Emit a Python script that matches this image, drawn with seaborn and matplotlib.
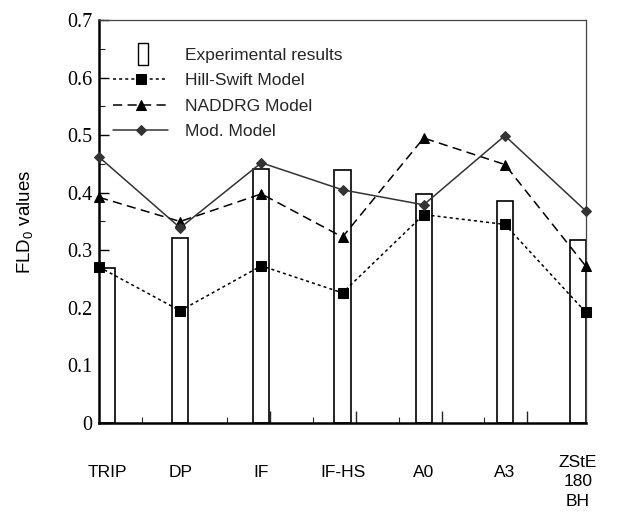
import numpy as np
import pandas as pd
import matplotlib
matplotlib.use("Agg")
import matplotlib.pyplot as plt
import seaborn as sns
from matplotlib.patches import Rectangle
from matplotlib.legend_handler import HandlerPatch
from matplotlib.ticker import MultipleLocator, FixedLocator, FuncFormatter

# Steel grades and FLD0 values
materials = ["TRIP", "DP", "IF", "IF-HS", "A0", "A3", "ZStE\n180\nBH"]
experimental = [0.270, 0.321, 0.441, 0.439, 0.398, 0.386, 0.317]
hill_swift = [0.271, 0.195, 0.273, 0.226, 0.362, 0.345, 0.192]
naddrg = [0.392, 0.350, 0.398, 0.323, 0.495, 0.449, 0.272]
mod_model = [0.462, 0.339, 0.452, 0.405, 0.379, 0.499, 0.368]
model_names = ["Hill-Swift Model", "NADDRG Model", "Mod. Model"]

sns.set_theme(style="white")
plt.rcParams["font.family"] = ["Liberation Sans", "DejaVu Sans"]
plt.rcParams["mathtext.fontset"] = "custom"
plt.rcParams["mathtext.rm"] = "Liberation Sans"

fig = plt.figure(figsize=(6.3, 5.14), dpi=100)
ax = fig.add_axes([99 / 630, 1 - 423 / 514, (586 - 99) / 630, (423 - 20) / 514])

x = np.arange(len(materials))
bar_w = 0.2
# outer bars are kept inside the frame
bar_x = np.clip(x, bar_w / 2, x[-1] - bar_w / 2)
ax.bar(bar_x, experimental, width=bar_w, facecolor="white",
       edgecolor="black", linewidth=1.2, zorder=1)

df = pd.DataFrame({
    "pos": np.tile(x, 3),
    "FLD0": hill_swift + naddrg + mod_model,
    "model": np.repeat(model_names, len(materials)),
})
colors = {"Hill-Swift Model": "black", "NADDRG Model": "black", "Mod. Model": "#333333"}
markers = {"Hill-Swift Model": "s", "NADDRG Model": "^", "Mod. Model": "D"}
dashes = {"Hill-Swift Model": (2, 2), "NADDRG Model": (6, 3.5), "Mod. Model": ""}
sns.lineplot(data=df, x="pos", y="FLD0", hue="model", style="model",
             palette=colors, markers=markers, dashes=dashes,
             linewidth=1.1, estimator=None, sort=False, legend=False, ax=ax)

msizes = {"Hill-Swift Model": 7.3, "NADDRG Model": 7.5, "Mod. Model": 5}
lines = ax.get_lines()
for line, name in zip(lines, model_names):
    line.set_markersize(msizes[name])
    line.set_markeredgecolor(colors[name])
    line.set_markerfacecolor(colors[name])
    line.set_clip_on(False)
    line.set_zorder(3)

ax.set_xlim(0, x[-1])
ax.set_ylim(0, 0.7)

# axis frame
for side in ["left", "bottom"]:
    ax.spines[side].set_linewidth(1.8)
    ax.spines[side].set_color("black")
for side in ["top", "right"]:
    ax.spines[side].set_linewidth(0.9)
    ax.spines[side].set_color("#444444")

# y ticks
ax.yaxis.set_major_locator(MultipleLocator(0.1))
ax.yaxis.set_minor_locator(MultipleLocator(0.05))
ax.yaxis.set_major_formatter(FuncFormatter(lambda v, p: "0" if abs(v) < 1e-9 else f"{v:.1f}"))
ax.tick_params(axis="y", which="major", direction="in", length=7, width=1,
               left=True, right=False, pad=5, labelsize=14.5, colors="black")
ax.tick_params(axis="y", which="minor", direction="in", length=4, width=0.8,
               left=True, right=False)
for lab in ax.get_yticklabels():
    lab.set_family(["Liberation Serif", "DejaVu Serif"])

# x ticks (frame scale of the original plotting grid)
tick_step = 1.055
ax.xaxis.set_major_locator(FixedLocator([k * tick_step for k in range(1, 6)]))
ax.xaxis.set_minor_locator(FixedLocator([(k + 0.5) * tick_step for k in range(0, 6)]))
ax.tick_params(axis="x", which="major", direction="in", length=9, width=1,
               bottom=True, top=False, labelbottom=False)
ax.tick_params(axis="x", which="minor", direction="in", length=4, width=0.8,
               bottom=True, top=False)

# category labels under the bars
trans = matplotlib.transforms.blended_transform_factory(ax.transData, ax.transAxes)
for bx, name in zip(bar_x, materials):
    n_lines = name.count("\n") + 1
    ax.text(bx, -0.124 - 0.011 * (n_lines - 1), name, transform=trans,
            ha="center", va="center", fontsize=12.5, linespacing=1.35,
            color="black")

ax.set_xlabel("")
ax.set_ylabel(r"FLD$_\mathregular{0}$ values", fontsize=13.5, color="black")
ax.yaxis.set_label_coords(-0.13, 0.5)


class TallBarHandler(HandlerPatch):
    def create_artists(self, legend, orig_handle, xdescent, ydescent,
                       width, height, fontsize, trans):
        w, h = 7.2, 15.8
        xc = -xdescent + width / 2 + 2
        yc = -ydescent + height / 2
        p = Rectangle((xc - w / 2, yc - h / 2), w, h, facecolor="white",
                      edgecolor="black", linewidth=1.0, transform=trans)
        return [p]


exp_patch = Rectangle((0, 0), 1, 1, facecolor="white", edgecolor="black")
handles = [exp_patch] + list(lines)
labels = ["Experimental results"] + model_names
fig.legend(handles, labels, loc="upper left",
           bbox_to_anchor=(113 / 630, 1 - 48 / 514),
           frameon=False, fontsize=12.5, handlelength=3.17,
           handletextpad=1.0, labelspacing=0.58, borderpad=0,
           borderaxespad=0, numpoints=1,
           handler_map={Rectangle: TallBarHandler()})

fig.savefig("out.png", dpi=100)
